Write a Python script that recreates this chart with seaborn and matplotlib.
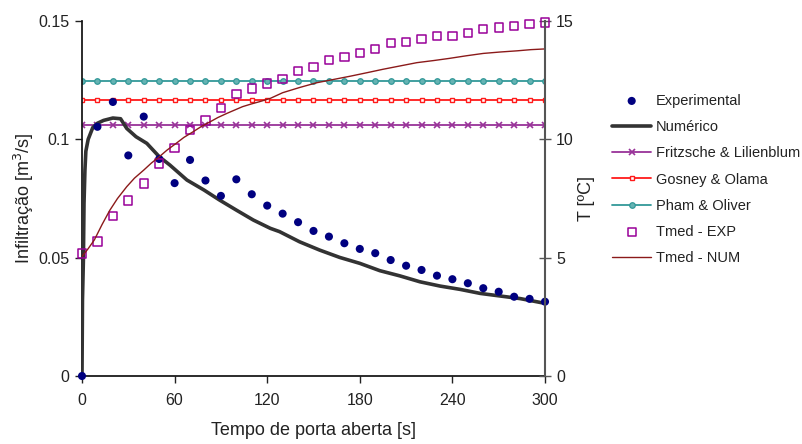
import numpy as np
import pandas as pd
import matplotlib
matplotlib.use("Agg")
import matplotlib.pyplot as plt
import seaborn as sns

# Sampling times (s) of the measured series
t_exp = list(range(0, 301, 10))

# Measured infiltration flow (m3/s)
q_exp = [0.0, 0.1053, 0.1158, 0.0932, 0.1096, 0.0917, 0.0815, 0.0913, 0.0826, 0.0761,
         0.0831, 0.0768, 0.0720, 0.0686, 0.0650, 0.0613, 0.0589, 0.0561, 0.0537, 0.0519,
         0.0490, 0.0466, 0.0448, 0.0424, 0.0409, 0.0392, 0.0371, 0.0356, 0.0335, 0.0326,
         0.0314]

# Simulated infiltration flow (m3/s)
t_num = [0, 0.3, 0.9, 1.3, 1.9, 2.5, 4, 7, 10, 14, 20, 25, 29, 35, 42, 50, 57, 68, 79,
         89, 100, 111, 122, 128, 141, 154, 167, 180, 193, 206, 219, 232, 245, 258, 271,
         284, 300]
q_num = [0.0, 0.032, 0.049, 0.073, 0.087, 0.095, 0.100, 0.105, 0.1068, 0.108, 0.109,
         0.1087, 0.1046, 0.1011, 0.0983, 0.0927, 0.0891, 0.0828, 0.0786, 0.0744, 0.0701,
         0.0659, 0.0624, 0.0610, 0.0567, 0.0532, 0.0501, 0.0476, 0.0445, 0.0423, 0.0398,
         0.0380, 0.0366, 0.0349, 0.0338, 0.0327, 0.0307]

# Correlation estimates (m3/s), constant over time
q_fritzsche = 0.1060
q_gosney = 0.1165
q_pham = 0.1245

# Mean temperature (degC): measured and simulated
T_exp = [5.18, 5.68, 6.77, 7.41, 8.14, 8.98, 9.62, 10.39, 10.79, 11.31, 11.91, 12.15,
         12.36, 12.55, 12.90, 13.07, 13.35, 13.49, 13.66, 13.82, 14.06, 14.11, 14.25,
         14.37, 14.37, 14.49, 14.65, 14.73, 14.79, 14.87, 14.93]
t_Tnum = [0, 4, 8, 13, 18, 23, 29, 34, 40, 45, 50, 55, 61, 66, 72, 77, 83, 88, 94, 99,
          104, 110, 115, 122, 130, 141, 152, 163, 174, 185, 195, 206, 217, 228, 238,
          249, 260, 271, 282, 291, 300]
T_num = [5.05, 5.38, 5.75, 6.4, 7.0, 7.5, 8.0, 8.36, 8.7, 9.0, 9.26, 9.54, 9.83, 10.08,
         10.32, 10.53, 10.74, 10.92, 11.1, 11.24, 11.38, 11.5, 11.59, 11.73, 11.97,
         12.19, 12.39, 12.53, 12.67, 12.82, 12.96, 13.1, 13.24, 13.33, 13.42, 13.53,
         13.63, 13.69, 13.74, 13.79, 13.82]

x_ticks = [0, 60, 120, 180, 240, 300]
q_ticks = [0, 0.05, 0.1, 0.15]
T_ticks = [0, 5, 10, 15]

sns.set_theme(style="white")
plt.rcParams["font.family"] = ["Liberation Sans", "DejaVu Sans"]
txt = "#222222"
plt.rcParams["text.color"] = txt
plt.rcParams["axes.labelcolor"] = txt
plt.rcParams["xtick.color"] = txt
plt.rcParams["ytick.color"] = txt

fig = plt.figure(figsize=(8.03, 4.44), dpi=100)
ax = fig.add_axes([82 / 803, 1 - 376 / 444, (545 - 82) / 803, (376 - 21) / 444])
ax2 = ax.twinx()

const = pd.DataFrame({"t": t_exp,
                      "fr": [q_fritzsche] * len(t_exp),
                      "go": [q_gosney] * len(t_exp),
                      "ph": [q_pham] * len(t_exp)})

sns.lineplot(data=const, x="t", y="fr", ax=ax, color="#993399", lw=1.3,
             marker="x", markersize=4.5, mew=1.2, mec="#993399",
             label="Fritzsche & Lilienblum", zorder=2)
sns.lineplot(data=const, x="t", y="go", ax=ax, color="#ff1a1a", lw=1.3,
             marker="s", markersize=3.5, mfc="white", mec="#ff1a1a", mew=1.0,
             label="Gosney & Olama", zorder=2)
sns.lineplot(data=const, x="t", y="ph", ax=ax, color="#339999", lw=1.3,
             marker="o", markersize=4, mfc="#66b3b3", mec="#339999", mew=0.9,
             label="Pham & Oliver", zorder=2)
sns.lineplot(x=t_num, y=q_num, ax=ax, color="#333333", lw=2.6, label="Numérico",
             zorder=3)
sns.scatterplot(x=t_exp, y=q_exp, ax=ax, color="#000080", s=34, edgecolor="none",
                label="Experimental", zorder=4, clip_on=False)

sns.lineplot(x=t_Tnum, y=T_num, ax=ax2, color="#8b1a1a", lw=1.0, label="Tmed - NUM")
sns.scatterplot(x=t_exp, y=T_exp, ax=ax2, marker="s", s=36, facecolor="none",
                edgecolor="#990099", linewidth=1.1, label="Tmed - EXP", clip_on=False)

ax.set_xlim(0, 300)
ax.set_ylim(0, 0.15)
ax2.set_ylim(0, 15)
ax.set_xticks(x_ticks)
ax.set_yticks(q_ticks)
ax.set_yticklabels(["0", "0.05", "0.1", "0.15"])
ax2.set_yticks(T_ticks)
ax2.set_yticklabels([str(v) for v in T_ticks])
ax.tick_params(axis="both", direction="out", length=5, width=1, labelsize=11.5,
               left=True, bottom=True)
ax.tick_params(axis="x", pad=7.5)
ax.tick_params(axis="y", pad=4)
ax2.tick_params(axis="y", direction="inout", length=8, width=1, labelsize=11.5,
                right=True, pad=4, color="#555555")

for a in (ax, ax2):
    a.spines["top"].set_visible(False)
ax.spines["left"].set_color("#111111")
ax.spines["bottom"].set_color("#111111")
ax2.spines["right"].set_color("#555555")
ax2.spines["right"].set_linewidth(1.5)
ax2.spines["left"].set_visible(False)
ax2.spines["bottom"].set_visible(False)

ax.set_xlabel("Tempo de porta aberta [s]", fontsize=13, labelpad=10)
ax.set_ylabel("Infiltração [m$^3$/s]", fontsize=13, labelpad=2)
ax2.set_ylabel("T [ºC]", fontsize=13, labelpad=3)

# Gather legend entries from both axes in display order
h1, l1 = ax.get_legend_handles_labels()
h2, l2 = ax2.get_legend_handles_labels()
handles = dict(zip(l1 + l2, h1 + h2))
order = ["Experimental", "Numérico", "Fritzsche & Lilienblum", "Gosney & Olama",
         "Pham & Oliver", "Tmed - EXP", "Tmed - NUM"]
ax.get_legend().remove()
ax2.get_legend().remove()
fig.legend([handles[k] for k in order], order, loc="center left",
           bbox_to_anchor=(612 / 803, 1 - 179.5 / 444), frameon=False, fontsize=10.5,
           handlelength=2.7, handletextpad=0.3, labelspacing=0.84, borderpad=0,
           borderaxespad=0, scatterpoints=1)

fig.savefig("out.png", dpi=100)
